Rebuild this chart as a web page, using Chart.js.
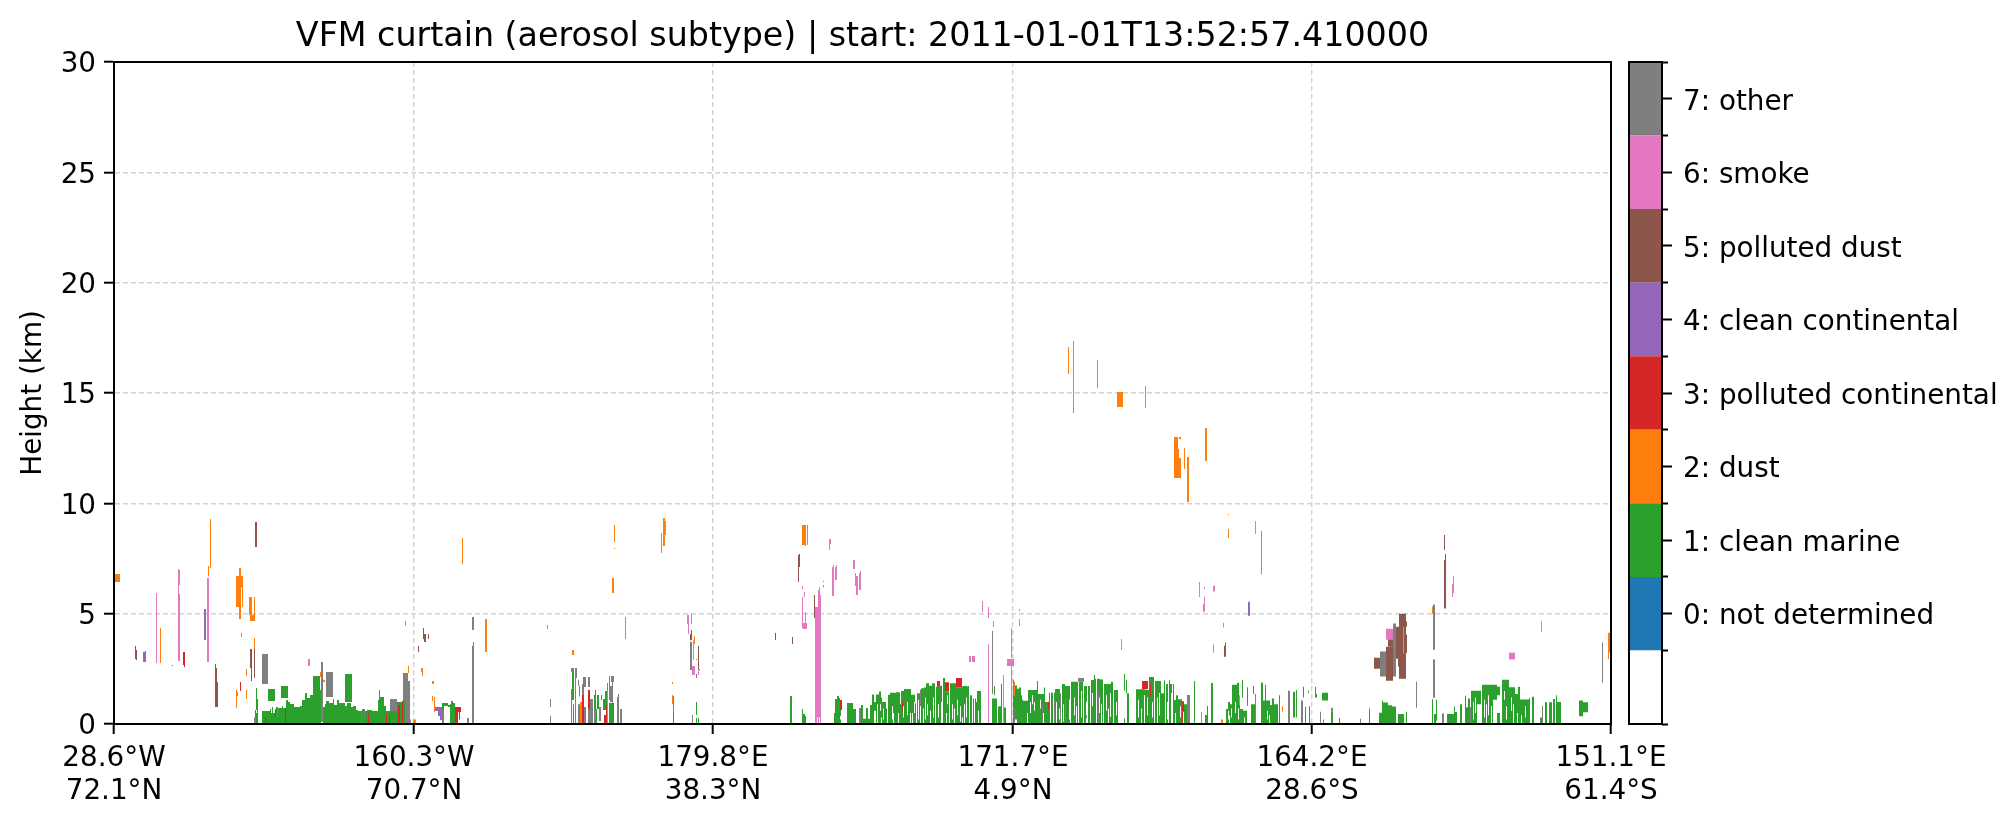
<!DOCTYPE html>
<html><head><meta charset="utf-8">
<style>html,body{margin:0;padding:0;background:#fff;overflow:hidden}
#wrap{position:relative;width:2015px;height:824px}
canvas{position:absolute;top:0;left:0}</style>
<script src="https://cdn.jsdelivr.net/npm/chart.js@4"></script>
</head><body><div id="wrap"><canvas id="main" width="2015" height="824"></canvas><canvas id="cbar" width="395" height="824" style="left:1620px"></canvas></div>
<script>
const titleText = "VFM curtain (aerosol subtype) | start: 2011-01-01T13:52:57.410000";
const yLabel = "Height (km)";
const profileCount = 1497;
const tickProfiles = [0,300,599,899,1198,1497];
const tickLon = ["28.6°W","160.3°W","179.8°E","171.7°E","164.2°E","151.1°E"];
const tickLat = ["72.1°N","70.7°N","38.3°N","4.9°N","28.6°S","61.4°S"];
const classCodes = [-1,0,1,2,3,4,5,6,7];
const classLabels = ["","0: not determined","1: clean marine","2: dust","3: polluted continental","4: clean continental","5: polluted dust","6: smoke","7: other"];
const classColors = ["#ffffff","#1f77b4","#2ca02c","#ff7f0e","#d62728","#9467bd","#8c564b","#e377c2","#7f7f7f"];
// every entry: [first profile, end profile, bottom km, top km]
const notDetermined = [];
const cleanMarine = [
[141,142,0,.63],[142,143,.63,1.63],[142,143,0,.5],[143,144,0,1.13],[148,156,0,.59],[156,157,0,.68],[157,158,0,.5],[158,159,0,.77],[159,161,0,.5],[161,162,0,.68],[162,164,0,.77],[164,168,0,.73],[168,169,0,.82],[169,172,0,.73],[172,174,0,1.09],[174,176,0,1],[176,180,0,.91],[180,186,0,.77],[186,188,0,.82],[188,191,0,1.09],[191,193,0,1.4],[193,196,0,1.18],[196,199,0,1.31],[199,206,0,2.18],[206,207,0,1.54],[209,211,0,.77],[211,212,0,.91],[212,215,0,1.04],[215,219,0,.95],[219,220,0,1.13],[220,223,0,.86],[223,225,0,1.09],[225,231,0,.95],[231,233,0,.82],[233,237,0,.95],[237,239,0,.77],[239,242,0,.82],[242,244,0,.63],[244,248,0,.59],[248,251,0,.68],[251,253,0,.59],[253,258,0,.63],[258,264,0,.59],[264,265,0,1.09],[265,266,0,1.54],[266,270,0,1.22],[270,272,0,.82],[272,283,0,.59],[283,289,0,1],[289,291,0,1.04],
[154,161,1.04,1.59],[167,174,1.18,1.72],[231,238,1,2.27],
[328,330,.59,.95],[330,334,.82,.95],[334,336,.77,.86],[336,337,0,.9],[337,339,0,1.04],[339,341,0,.95],
[458,460,1.09,2.36],[459,460,0,.9],[480,482,.68,1.31],[481,482,1.31,1.54],[482,483,0,.68],[483,485,.68,1.31],[487,488,1.09,1.31],[489,493,.63,1.13],[491,493,1.13,1.5],[495,500,0,.95],[559,560,0,.45],
[582,583,.41,1],[582,583,0,.27],[584,585,0,.27],[676,678,0,1.27],[688,689,0,.68],[689,691,0,.45],[691,692,0,.36],
[720,721,0,.5],[721,723,0,1.13],[723,725,0,1.27],[725,726,0,1.18],[726,727,.36,.64],[726,727,0,.2],[733,739,0,.95],[739,742,0,.68],
[747,749,0,.86],[749,752,0,.24],[752,754,0,.73],[754,756,0,.24],[756,758,0,.86],[758,760,0,1.34],[760,762,.6,1],[762,763,0,1.34],[763,764,.9,1.34],[764,765,0,1.34],[765,767,0,1.47],[767,768,.3,1.2],[768,772,0,1],[772,773,0,.7],[774,776,0,1.32],[776,779,0,1.42],[779,780,.5,1.42],[780,782,0,1.42],[782,786,0,1.44],[786,787,0,.9],[787,790,0,1.5],[790,796,0,1.59],[796,797,.5,1.59],[797,801,0,1.32],[801,802,0,.94],[803,806,0,1.39],[807,810,0,1.62],[810,812,0,1.65],[812,815,0,1.85],[815,818,0,1.73],[818,821,0,1.85],[822,826,0,1.69],[826,828,0,1.73],[829,831,0,2.08],[831,835,0,1.47],[836,842,0,1.85],[842,848,0,1.66],[848,849,.3,1.7],[849,853,0,1.72],[853,854,0,1.7],[854,855,0,1.72],[856,858,0,1.3],[859,860,0,1.16],[861,862,0,1.16],[862,863,0,1],[863,867,0,1.5],
[878,883,0,1.16],[880,881,1.3,1.72],[884,887,0,.8],[887,888,0,1.81],[890,892,0,.75],
[899,901,0,1.3],[901,903,.2,1.75],[903,905,0,1.6],[905,907,0,1.65],[907,908,0,1.3],[908,909,0,1.1],[909,913,0,1.05],[913,914,.5,1.05],[914,920,0,1.54],[920,921,0,.6],[920,921,1,1.54],[921,923,0,1.54],[923,924,0,1.95],[924,926,0,1.36],[926,927,0,.7],[926,927,1.1,1.36],[927,929,0,1.36],[929,930,.5,1.36],[930,931,0,1.65],[931,935,0,1],[935,936,0,1.42],[937,939,0,1.42],[940,941,0,1.42],[941,942,0,1.59],[942,943,1,1.59],[943,946,0,1.59],[948,951,0,1.81],[951,956,0,1.72],[957,964,0,1.92],[965,969,0,1.92],[970,973,0,1.72],[974,976,0,1.72],[977,980,0,1.99],[980,981,0,2.22],[981,982,0,2.05],[983,986,0,2.05],[986,989,0,2.02],[990,996,0,1.81],[996,997,0,.33],[996,997,1.39,1.81],[997,999,0,1.92],[1000,1004,0,1.54],
[1010,1011,0,.25],[1010,1011,1.51,2.27],[1012,1013,1.39,2],[1013,1015,0,1.39],
[1022,1031,0,1.57],[1031,1035,0,1.54],[1035,1040,0,2.13],[1041,1047,0,1.95],[1047,1050,0,1.39],[1050,1051,0,1.98],[1052,1054,0,1.81],[1055,1056,0,1.98],[1056,1058,0,1.81],[1059,1060,0,1.81],[1060,1062,0,1.09],[1062,1064,0,1.3],[1064,1068,0,1.12],[1070,1073,0,.9],[1080,1081,0,1.95],
[1091,1093,0,.41],[1093,1094,0,.83],[1097,1099,0,1.86],[1112,1114,0,.68],[1114,1116,0,1],[1116,1118,0,.9],[1118,1123,0,1.78],[1123,1125,0,1.87],[1125,1126,0,.9],[1126,1128,0,.68],[1128,1129,0,.68],[1128,1129,1.2,2],[1129,1133,0,.6],[1133,1134,.83,1.66],[1137,1141,0,.9],[1139,1140,1.36,1.72],[1147,1149,0,1.87],[1149,1150,0,1.06],[1151,1152,.9,1.78],[1150,1156,0,1.06],[1156,1158,0,.86],[1158,1160,0,1.15],[1160,1164,0,.9],[1165,1166,0,1.3],
[1179,1181,.3,1.46],[1182,1183,.3,1.54],[1189,1190,1.2,1.69],[1191,1192,0,.78],[1195,1196,0,.8],[1194,1195,1.42,1.51],[1201,1202,1.2,1.69],[1202,1203,1.2,1.36],[1208,1214,1.06,1.42],[1217,1219,0,.56],[1225,1226,0,.27],[1255,1256,0,.7],
[1265,1268,0,.51],[1268,1269,0,1.06],[1269,1274,0,.97],[1274,1278,0,.85],[1278,1282,0,.79],[1284,1290,0,.45],[1292,1293,0,.56],
[1318,1319,0,1.13],[1320,1322,0,.45],[1322,1323,.15,1.1],[1333,1340,0,.45],[1340,1341,0,.79],[1341,1343,0,.54],[1346,1348,0,.9],[1351,1352,0,1.28],[1352,1354,0,.76],[1354,1356,0,1.15],[1357,1363,0,1.51],[1363,1367,.9,1.51],[1368,1379,0,1.78],[1379,1383,1.1,1.78],[1383,1386,0,.5],[1383,1386,1.3,1.69],[1388,1395,0,2],[1395,1401,0,1.66],[1401,1404,0,1.36],[1404,1406,0,1.69],[1406,1415,0,1.11],[1415,1416,0,1.17],[1418,1420,0,1.24],[1426,1428,0,.3],[1431,1433,0,.98],[1435,1438,0,.98],[1439,1441,0,1.13],[1442,1443,0,1.3],[1443,1447,0,1],[1465,1469,.35,1.06],[1469,1474,.53,.98]
];
// cloud-free gaps inside the clean-marine layer: [profile, bottom km, top km]
const marineGaps = [
[766,.6,.9],[769,.2,.7],[778,.2,.8],[784,0,.5],[789,.3,.8],[793,.4,1],[798,0,.5],[800,.5,1],[804,.2,1.1],[809,0,.7],[811,.2,1.2],[813,.4,.9],[816,0,.6],[819,.3,1.2],[824,.3,.9],[827,0,1],[832,0,.5],[833,.9,1.3],[838,.2,.9],[840,0,.7],[843,.4,1.1],[846,.1,.8],[850,0,.9],[852,.3,1.2],[864,0,.6],
[916,.5,1],[918,.9,1.3],[945,.2,.7],[949,.1,.9],[955,.2,1.1],[960,.4,1.2],[962,0,.8],[967,.3,1.5],[972,0,1],[978,.8,1.4],[985,.5,1.2],[987,0,.9],[992,.6,1.3],[994,0,.7],[1002,.4,1],
[1024,.3,1.1],[1027,0,.7],[1030,0,1.3],[1033,.4,1.2],[1038,.3,1],[1043,0,1.2],[1045,.4,1.4],[1053,.2,1],[1057,0,1.4],[1061,0,.5],[1066,.3,.8],
[1114,.2,.6],[1115,0,.4],[1117,.3,.7],[1121,.5,1],[1124,.2,.7],[1130,0,.3],[1153,.2,.6],[1155,0,.4],
[1359,.2,1],[1361,.5,1.2],[1370,.3,1.1],[1372,0,.9],[1374,.4,1.3],[1377,0,.8],[1390,1.1,1.5],[1392,.2,.8],[1397,.6,1.2],[1399,0,.9],[1403,0,.5],[1407,0,.4],[1411,.3,.8]
];
const dust = [
[1,6,6.43,6.8],[96,97,7.07,9.29],[94,95,6.7,7.16],[46,47,2.76,4.35],[122,125,5.3,6.71],[125,127,4.76,7.07],[127,129,6.2,6.71],[128,129,5.3,6.2],[135,138,4.94,5.76],[136,141,4.67,4.94],[140,141,4.94,5.76],[127,128,3.94,4.12],[140,141,3.4,3.9],[132,133,2.18,2.49],[132,133,1.13,1.54],[122,123,.73,1.54],[123,124,1.27,1.45],[206,207,2.13,2.36],[209,211,1.9,2],[294,295,2.31,2.63],[299,302,0,.2],
[291,292,4.44,4.67],[307,309,2.36,2.54],[308,309,2.18,2.36],[318,320,1.81,1.95],[318,319,1.04,1.27],[320,321,.54,1.22],[348,349,7.25,8.43],[371,373,3.26,4.76],
[433,434,4.31,4.49],[500,501,8.25,9.02],[500,501,7.93,7.98],[498,500,5.94,6.62],[511,512,3.85,4.85],[549,551,8.07,9.34],[547,548,7.75,8.66],[458,460,3.13,3.35],[466,468,0,1],[493,494,0,1.54],[558,559,1.81,1.9],[558,559,.9,1.31],[580,581,3.63,3.99],[585,586,2.4,2.49],[688,692,8.11,9.02],[691,692,8.07,8.11],[693,694,8.11,9.02],[709,710,6.44,6.49],[709,710,6.2,6.3],[900,901,1.31,1.9],
[954,955,15.86,17.08],[959,960,14.09,17.36],[983,984,15.23,16.5],[1003,1009,14.37,15.05],[1031,1032,14.32,15.32],[1060,1064,11.15,13],[1064,1065,11.15,12.46],[1065,1067,11.15,12.05],[1065,1067,12.9,13],[1070,1071,11.56,12.5],[1073,1075,10.06,12.1],[1091,1093,11.92,13.41],[1114,1115,9.47,9.52],[1114,1115,8.43,8.84],[1147,1148,6.77,8.75],[1087,1088,0,.54],[1107,1109,0,.2],[1125,1126,.9,1.3],[1168,1169,.56,.8],[1318,1319,5,5.32],[1494,1496,3.23,4.14],[1494,1495,2.95,3.23]
];
const pollutedContinental = [
[69,71,2.67,3.26],[70,71,2.58,2.67],[126,127,1.5,1.9],[151,152,0,.32],[161,162,.32,.63],[171,172,0,.68],[254,255,0,.5],[272,273,0,.45],[275,276,0,.36],[284,286,0,.86],[288,289,0,1.04],[341,344,0,.77],[344,347,.54,.77],[345,346,.2,.54],
[468,470,0,1.31],[474,476,.68,1.54],[490,493,0,.41],[492,493,.41,.86],[726,728,.64,1.09],[823,826,1.69,1.95],[831,835,1.47,1.89],[842,848,1.66,2.08],[788,789,.55,1],[934,935,.63,1.01],[1028,1034,1.57,1.95],[1036,1037,1.24,1.81],[1068,1070,.56,1.03],[1068,1069,0,.56]
];
const cleanContinental = [
[29,31,2.81,3.26],[31,32,2.81,3.31],[58,59,2.63,2.67],[90,92,3.81,5.21],[321,324,.59,.77],[324,326,.36,.77],[326,328,.18,.77],[1134,1136,4.9,5.54]
];
const pollutedDust = [
[21,22,2.95,3.53],[22,23,2.9,3.35],[101,102,.77,2.72],[102,103,.77,2.54],[103,104,.77,1.9],[141,143,8.02,9.15],[136,138,2.54,3.4],[137,138,1.95,2.54],[140,141,2.08,3.4],[304,305,3.26,3.53],[309,310,3.85,4.35],[310,312,3.72,4.08],[314,315,3.85,4.08],
[576,578,3.8,4.08],[577,578,4.08,4.26],[584,585,2.45,3.53],[684,685,6.43,7.66],[685,686,7.11,7.7],[661,662,3.81,4.12],[678,679,3.63,3.94],[700,701,4.8,5.85],
[1110,1112,3.05,3.55],[1111,1112,3.55,3.69],[1260,1266,2.5,3],[1272,1279,1.96,3.5],[1274,1279,3.5,4.05],[1282,1285,2.96,4.41],[1284,1285,2.6,2.96],[1285,1292,2.05,5],[1292,1293,3.23,4.05],[1292,1293,4.41,4.64],[1330,1331,7.89,8.56],[1331,1332,7.43,7.7],[1330,1332,5.23,7.43]
];
const smoke = [
[93,95,2.81,6.62],[64,65,2.85,7.02],[65,66,2.85,5.9],[65,66,6.3,6.98],[42,43,2.76,5.94],[194,196,2.63,2.95],
[573,575,4.53,4.94],[574,575,4.08,4.53],[577,578,4.53,4.98],[579,580,2.9,3.8],[578,581,2.22,2.63],[584,585,2.22,2.4],[551,552,8.56,9.2],
[688,689,6.12,6.25],[690,691,5.76,5.98],[688,689,4.35,5.76],[691,692,4.56,5.08],[689,693,4.31,4.58],[701,704,.3,5.3],[701,703,0,.3],[704,705,0,6.07],[705,706,.3,6.2],[706,707,0,5.85],[715,717,8.16,8.38],[715,716,7.89,8.16],[718,720,5.8,7.11],[719,720,7.11,7.2],[721,723,6.53,7.11],[722,723,7.11,7.2],[739,741,7.02,7.43],[741,742,6.25,6.84],[742,744,5.85,6.71],[745,747,6.07,6.84],[746,747,6.84,6.93],
[855,857,2.81,3.08],[858,861,2.81,3.08],[868,869,5.08,5.57],[874,875,4.8,5.3],[874,875,0,3.63],[879,880,4.4,4.67],[889,890,0,2.22],[893,900,2.63,2.95],[897,898,3,4.35],[897,898,0,2.63],[905,906,5.12,5.21],[905,906,4.44,4.76],[1007,1008,3.35,3.85],[1085,1086,5.76,6.43],
[1090,1091,6.13,6.22],[1099,1101,6,6.27],[1090,1091,5.09,5.77],[1089,1090,5.09,5.44],[1109,1110,4.37,4.59],[1099,1100,3.23,3.6],[1141,1142,8.61,9.2],[1272,1279,3.82,4.32],[1289,1290,3.19,4.41],[1339,1340,5.94,6.7],[1338,1339,5.75,6.34],[1427,1428,4.18,4.64],[1395,1401,2.92,3.23]
];
const other = [
[148,154,1.81,3.17],[207,209,.09,2.81],[212,219,1.22,2.36],[276,283,.59,1.13],[289,294,1.04,2.31],[291,294,0,1.04],[294,296,0,1.95],[296,297,0,.2],[163,164,.32,.73],[247,248,0,.59],[250,251,.27,.68],[140,142,0,.3],
[358,360,4.26,4.85],[358,360,0,3.55],[359,360,3.55,3.72],[353,355,.05,.27],[328,330,0,.63],
[436,437,.77,1.13],[436,437,0,.36],[457,460,2.36,2.54],[461,463,2.08,2.54],[461,462,0,2.08],[457,458,0,1.59],[464,466,0,.9],[464,465,1.75,2],[465,466,1.25,1.75],[468,470,1.31,1.81],[469,472,1.68,2.13],[470,472,0,.77],[474,476,1.68,2.13],[474,479,0,.68],[476,479,.68,1.13],[480,482,0,.68],[485,487,.14,.77],[493,494,1.54,1.86],[495,496,1.09,2.18],[497,500,1.9,2.18],[496,498,1,1.72],[498,499,.95,1.9],[503,505,0,1.22],[504,505,1.22,1.36],[506,508,0,.68],
[559,560,.45,1.27],[576,578,2.45,3.72],[582,583,2.08,2.27],[582,583,2.9,2.95],[578,579,0,.41],
[745,747,0,.73],[806,807,.8,1.55],[878,879,1.36,4.21],[899,900,1.3,2],[900,901,0,.7],[928,929,0,.85],[946,947,.03,1.39],[951,952,.03,1.16],[940,941,.1,1.1],[964,970,1.92,2.08],[972,973,.25,.4],[984,985,0,1.45],[1073,1076,0,1.31],
[1141,1142,0,1.36],[1174,1176,0,1.51],[1187,1189,0,1.06],[1206,1207,0,.56],[1209,1210,0,.2],[1217,1219,.56,.74],[1246,1247,0,.24],[1266,1272,2.15,3.28],[1279,1282,2.15,4.55],[1319,1321,3.37,5.41],[1319,1321,1.19,2.92],[1302,1303,.74,1.92],[1328,1330,0,.48],[1356,1357,0,.76],[1428,1429,0,.83],[1488,1489,1.87,3.69]
];

const classData = [notDetermined,cleanMarine,dust,pollutedContinental,cleanContinental,pollutedDust,smoke,other];
const drawOrder = [0,9,3,4,6,8,5,7];
const gapAt = new Map(marineGaps.map(([p,lo,hi])=>[p,[lo,hi]]));
const toBars = (rows,useGaps) => rows.flatMap(([a,b,lo,hi]) => {
  const out=[];
  for(let p=a;p<b;p++){
    const g = useGaps && gapAt.get(p);
    if(g && g[0]<hi && g[1]>lo){
      if(g[0]>lo) out.push({x:p+.5,y:[lo,g[0]]});
      if(g[1]<hi) out.push({x:p+.5,y:[g[1],hi]});
    } else out.push({x:p+.5,y:[lo,hi]});
  }
  return out;
});

const FONT = "'DejaVu Sans'";
const LABEL_SIZE = 27.8;
const tickFont = {family:FONT,size:LABEL_SIZE,lineHeight:1.17};
Chart.defaults.font.family = FONT;
Chart.defaults.color = '#000';
Chart.defaults.animation = false;
const frame = (position,min,max) => ({type:'linear',position,min,max,display:true,offset:false,weight:-1,
  grid:{display:true,drawTicks:false,drawOnChartArea:false,offset:false},
  border:{display:true,color:'#000',width:2,z:2},
  ticks:{display:false},
  afterFit(s){ if(position==='top'||position==='bottom') s.height=0; else s.width=0; }});

new Chart(document.getElementById('main'),{
  type:'bar',
  data:{datasets:classData.map((rows,i)=>({
    label:classLabels[i+1],data:toBars(rows,rows===cleanMarine),order:drawOrder[i],
    backgroundColor:classColors[i+1],borderWidth:0,grouped:false,
    barPercentage:1,categoryPercentage:1,inflateAmount:0}))},
  options:{
    responsive:false,events:[],animation:false,
    layout:{padding:{left:0,top:0,right:404,bottom:0}},
    plugins:{legend:{display:false},tooltip:{enabled:false},
      title:{display:true,text:titleText,fullSize:false,color:'#000',
        font:{family:FONT,size:33.3,weight:'normal',lineHeight:1.2},padding:{top:17,bottom:5}}},
    scales:{
      x:{type:'linear',position:'bottom',min:0,max:profileCount,offset:false,
        afterBuildTicks(s){s.ticks=tickProfiles.map(value=>({value}));},
        ticks:{autoSkip:false,maxRotation:0,minRotation:0,padding:9,font:tickFont,color:'#000',
          callback:(v,i)=>[tickLon[i],tickLat[i]]},
        grid:{color:'#d2d2d2',lineWidth:1.4,tickColor:'#000',tickWidth:2,tickLength:10,offset:false},
        border:{color:'#000',width:2,dash:[5,3]},
        afterFit(s){s.height=100;}},
      y:{type:'linear',position:'left',min:0,max:30,
        ticks:{stepSize:5,padding:8,labelOffset:3,font:{family:FONT,size:LABEL_SIZE},color:'#000'},
        title:{display:true,text:yLabel,color:'#000',font:{family:FONT,size:LABEL_SIZE},padding:{top:17.5,bottom:0}},
        grid:{color:'#d2d2d2',lineWidth:1.4,tickColor:'#000',tickWidth:2,tickLength:10},
        border:{color:'#000',width:2,dash:[5,3]},
        afterFit(s){s.width=114;}},
      xTop:frame('top',0,profileCount),
      xBase:frame('bottom',0,profileCount),
      yBase:frame('left',0,30),
      yRight:frame('right',0,30)
    }
  }
});

const cbTicks = [0,1,2,3,4,5,6,7];
const cbBounds = [-1.5,-.5,.5,1.5,2.5,3.5,4.5,5.5,6.5,7.5];
new Chart(document.getElementById('cbar'),{
  type:'bar',
  data:{labels:[''],datasets:classCodes.map((c,i)=>({
    label:classLabels[i],data:[[c-.5,c+.5]],backgroundColor:classColors[i],
    borderWidth:0,grouped:false,barPercentage:1,categoryPercentage:1,inflateAmount:0}))},
  options:{
    responsive:false,events:[],animation:false,
    layout:{padding:{left:9,top:62,right:0,bottom:100}},
    plugins:{legend:{display:false},tooltip:{enabled:false},title:{display:false}},
    scales:{
      x:{type:'category',display:false},
      y:{type:'linear',position:'right',min:-1.5,max:7.5,
        afterBuildTicks(s){s.ticks=cbTicks.map(value=>({value}));},
        ticks:{autoSkip:false,padding:11,labelOffset:3.5,font:{family:FONT,size:LABEL_SIZE},color:'#000',crossAlign:'near',
          callback:(v)=>classLabels[classCodes.indexOf(v)]},
        grid:{drawOnChartArea:false,tickColor:'#000',tickWidth:2,tickLength:10},
        border:{color:'#000',width:2},
        afterFit(s){s.width=353;}},
      yMinor:{type:'linear',position:'right',min:-1.5,max:7.5,weight:-1,
        afterBuildTicks(s){s.ticks=cbBounds.map(value=>({value}));},
        ticks:{display:false},
        grid:{drawOnChartArea:false,tickColor:'#000',tickWidth:2,tickLength:6},
        border:{display:false},
        afterFit(s){s.width=0;}},
      xBottom:frame('bottom',0,1),
      xTop:frame('top',0,1),
      yLeft:frame('left',-1.5,7.5),
      yRightEdge:frame('right',-1.5,7.5)
    }
  }
});
</script></body></html>
